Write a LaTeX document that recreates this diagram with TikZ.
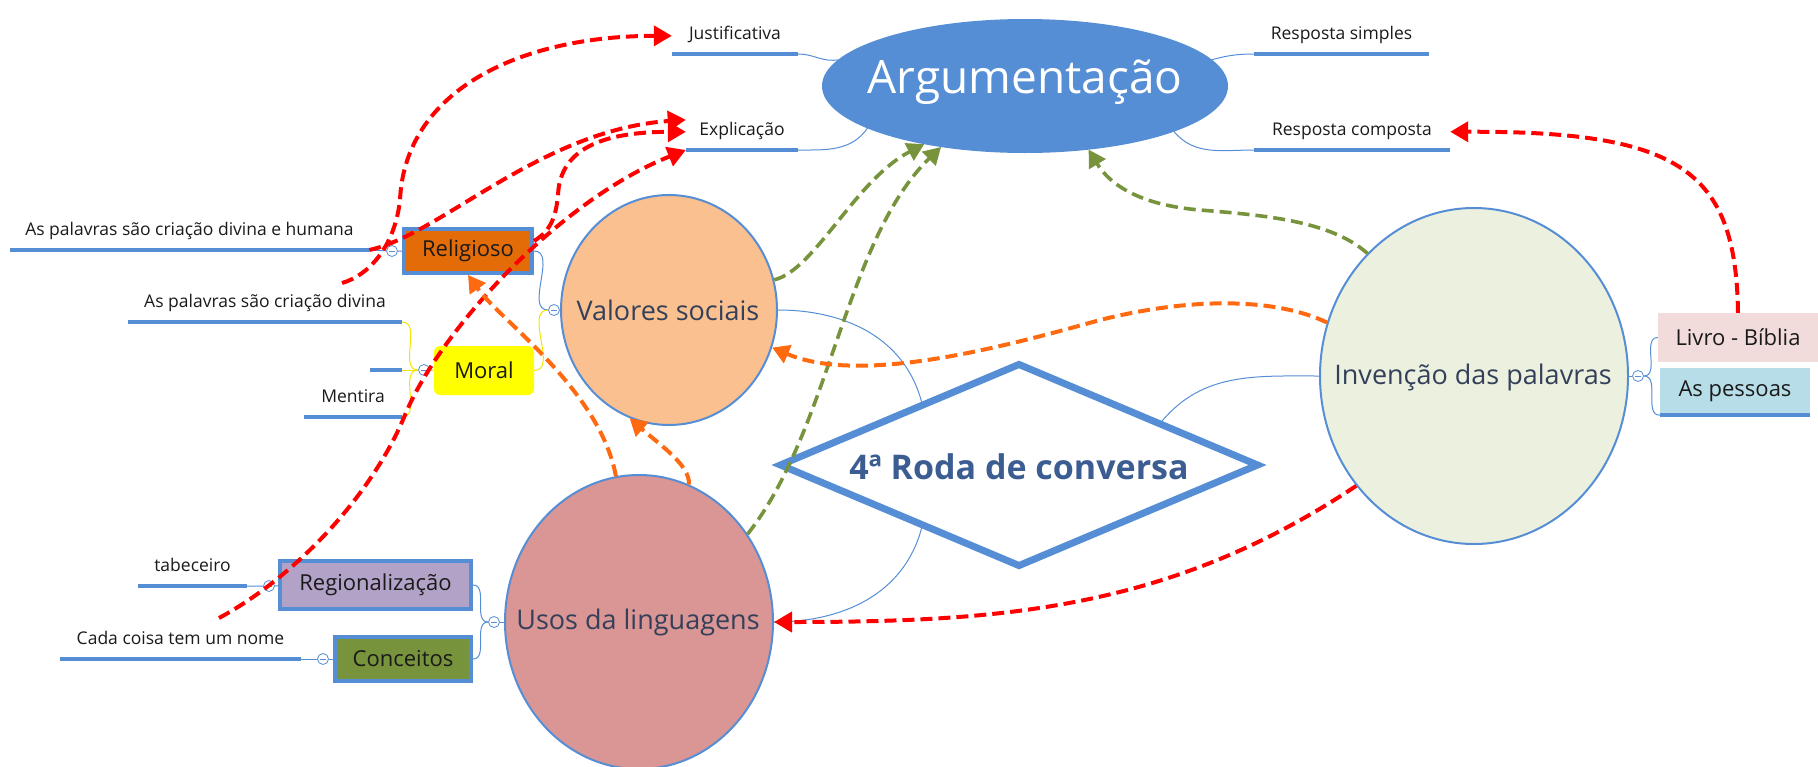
\documentclass[tikz,border=0pt]{standalone}
\usepackage{fontspec}
\setmainfont{Open Sans}
\usetikzlibrary{shapes.geometric,arrows.meta}
\definecolor{mapblue}{HTML}{558ED5}
\definecolor{argfill}{HTML}{558ED5}
\definecolor{valfill}{HTML}{FAC08F}
\definecolor{usosfill}{HTML}{D99694}
\definecolor{invfill}{HTML}{EBF1DE}
\definecolor{religfill}{HTML}{E36C09}
\definecolor{moralfill}{HTML}{FFFF00}
\definecolor{regfill}{HTML}{B3A2C7}
\definecolor{concfill}{HTML}{77933C}
\definecolor{livrofill}{HTML}{F2DCDB}
\definecolor{pessfill}{HTML}{B7DEE8}
\definecolor{arrred}{HTML}{FF0000}
\definecolor{arrgreen}{HTML}{77933C}
\definecolor{arrorange}{HTML}{FF6A10}
\definecolor{elltext}{HTML}{34405A}
\definecolor{rodatext}{HTML}{3B5D92}
\definecolor{lbltext}{HTML}{1A1A1A}
\definecolor{yellowline}{HTML}{F2E600}
\begin{document}
\begin{tikzpicture}[x=1pt,y=-1pt,
  ell/.style={ellipse, draw=mapblue, line width=2pt, inner sep=0pt},
  elltxt/.style={inner sep=0pt, text=elltext, font=\fontsize{27}{31}\selectfont},
  ul/.style={draw=mapblue, line width=4pt},
  lbl/.style={minimum width=#1, anchor=south, inner xsep=0pt, inner ysep=0pt, text height=14pt, text depth=14pt, text=lbltext, font=\fontsize{17.5}{20}\selectfont,
    append after command={(\tikzlastnode.south west) edge[ul] (\tikzlastnode.south east)}},
  boxb/.style={draw=mapblue, line width=4pt, inner sep=0pt, text=lbltext, font=\fontsize{22}{26}\selectfont},
  boxn/.style={inner sep=0pt, text=lbltext, font=\fontsize{22}{26}\selectfont},
  mcirc/.style={circle, draw=mapblue, fill=white, line width=0.8pt, minimum size=11pt, inner sep=0pt,
    path picture={\draw[mapblue, line width=0.8pt] ([xshift=-3pt]path picture bounding box.center) -- ([xshift=3pt]path picture bounding box.center);}},
  thinb/.style={draw=mapblue, line width=1pt},
  thiny/.style={draw=yellowline, line width=1pt},
  rarr/.style={draw=arrred, line width=4pt, dash pattern=on 12pt off 6pt, -{Triangle[length=18pt,width=20pt]}},
  garr/.style={draw=arrgreen, line width=3.6pt, dash pattern=on 12pt off 6pt, -{Triangle[length=17pt,width=19pt]}},
  oarr/.style={draw=arrorange, line width=4pt, dash pattern=on 12pt off 6pt, -{Triangle[length=17pt,width=19pt]}}
]
\useasboundingbox (0,0) rectangle (1818,766);

% main topics
\node[ell, fill=argfill, minimum width=404pt, minimum height=132pt] (arg) at (1025,86) {};
\node[elltxt, text=white, font=\fontsize{46}{50}\selectfont] (argt) at (1025,82) {Argumentação};
\node[ell, fill=valfill, minimum width=216pt, minimum height=230pt] (valores) at (669,310) {};
\node[elltxt] (valt) at (668,310) {Valores sociais};
\node[ell, fill=usosfill, minimum width=268pt, minimum height=294pt] (usos) at (639,622) {};
\node[elltxt] (usost) at (638,622) {Usos da linguagens};
\node[ell, fill=invfill, minimum width=308pt, minimum height=336pt] (invencao) at (1474,376) {};
\node[elltxt] (invt) at (1473,377) {Invenção das palavras};
\node[diamond, draw=mapblue, line width=7pt, fill=white, minimum width=480pt, minimum height=204pt, inner sep=0pt] (roda) at (1019,465) {};
\node[text=rodatext, font=\fontsize{34}{39}\selectfont\bfseries] (rodat) at (1019,467) {4ª Roda de conversa};

% boxes
\node[boxb, fill=religfill, minimum width=128pt, minimum height=44pt] (relig) at (468,251) {Religioso};
\node[boxn, fill=moralfill, minimum width=100pt, minimum height=49pt, rounded corners=6pt] (moral) at (484,370.5) {Moral};
\node[boxb, fill=regfill, minimum width=191pt, minimum height=48pt] (region) at (375.5,585) {Regionalização};
\node[boxb, fill=concfill, minimum width=136pt, minimum height=44pt] (conceitos) at (403,659) {Conceitos};
\node[boxn, fill=livrofill, minimum width=160pt, minimum height=49pt] (livro) at (1738,337.5) {Livro - Bíblia};
\node[boxn, fill=pessfill, minimum width=150pt, minimum height=47pt,
  append after command={(\tikzlastnode.south west) edge[ul] (\tikzlastnode.south east)}] (pessoas) at (1735,391.5) {As pessoas};

% labels with underlines
\node[lbl=126pt] (just) at (735,54) {Justificativa};
\node[lbl=112pt] (expl) at (742,150) {Explicação};
\node[lbl=175pt] (rsimp) at (1341.5,54) {Resposta simples};
\node[lbl=196pt] (rcomp) at (1352,150) {Resposta composta};
\node[lbl=359pt] (ph) at (189.5,250) {As palavras são criação divina e humana};
\node[lbl=274pt] (pd) at (265,322) {As palavras são criação divina};
\node[lbl=32pt] (pe) at (386,370) {};
\node[lbl=98pt] (ment) at (353,417) {Mentira};
\node[lbl=109pt] (tab) at (192.5,586) {tabeceiro};
\node[lbl=241pt] (cada) at (180.5,659) {Cada coisa tem um nome};

% collapse circles
\node[mcirc] (crel) at (392,251) {};
\node[mcirc] (cmor) at (424,370) {};
\node[mcirc] (cval) at (554,310) {};
\node[mcirc] (creg) at (269,586) {};
\node[mcirc] (ccon) at (323,659) {};
\node[mcirc] (cuso) at (494,622) {};
\node[mcirc] (cinv) at (1638,376) {};

% thin connectors
\draw[thinb] (ph.south east) -- (crel) -- (relig);
\draw[thiny] (pd.south east) to[out=0,in=180] (cmor.west);
\draw[thiny] (pe.south east) -- (cmor);
\draw[thiny] (ment.south east) to[out=0,in=180] (cmor.west);
\draw[thiny] (cmor) -- (moral);
\draw[thinb] (relig.east) to[out=0,in=180] (cval.west);
\draw[thiny] (moral.east) to[out=0,in=180] (cval.west);
\draw[thinb] (cval) -- (valores);
\draw[thinb] (tab.south east) -- (creg) -- (region);
\draw[thinb] (cada.south east) -- (ccon) -- (conceitos);
\draw[thinb] (region.east) to[out=0,in=180] (cuso.west);
\draw[thinb] (conceitos.east) to[out=0,in=180] (cuso.west);
\draw[thinb] (cuso) -- (usos);
\draw[thinb] (invencao) -- (cinv);
\draw[thinb] (cinv.east) to[out=0,in=180] (livro.west);
\draw[thinb] (cinv.east) to[out=0,in=180] (pessoas.south west);
\draw[thinb] (just.south east) to[out=0,in=190] (arg.172);
\draw[thinb] (expl.south east) to[out=0,in=235] (arg.195);
\draw[thinb] (arg.8) to[out=15,in=180] (rsimp.south west);
\draw[thinb] (arg.343) to[out=-50,in=180] (rcomp.south west);
\draw[thinb] (roda.147) to[out=105,in=0] (valores.east);
\draw[thinb] (roda.213) to[out=-105,in=0] (usos.east);
\draw[thinb] (roda.17) to[out=50,in=180] (invencao.west);

% free ends
\coordinate (r1s) at (342,283);
\coordinate (r4s) at (219,618);

% red relations
\draw[rarr] (r1s) .. controls (370,275) and (395,245) .. (400,200) .. controls (405,90) and (520,36) .. ([yshift=4pt]just.west);
\draw[rarr] (ph.south east) .. controls (440,235) and (540,130) .. ([yshift=16pt]expl.west);
\draw[rarr] ([yshift=10pt]relig.east) .. controls (552,230) and (556,215) .. (558,195) .. controls (560,150) and (600,132) .. ([yshift=4pt]expl.west);
\draw[rarr] (r4s) .. controls (290,580) and (370,500) .. (405,415) .. controls (440,330) and (560,200) .. (expl.south west);
\draw[rarr] (livro.north) .. controls (1736,170) and (1680,131) .. ([yshift=4pt]rcomp.east);
\draw[rarr] (invencao.223) .. controls (1170,610) and (1000,622) .. (usos.east);

% green relations
\draw[garr] (valores.16) .. controls (815,270) and (855,180) .. (arg.210);
\draw[garr] (usos.39) .. controls (830,430) and (845,240) .. (arg.216);
\draw[garr] (invencao.131) .. controls (1330,220) and (1260,215) .. (1200,210) .. controls (1140,205) and (1110,185) .. (arg.315);

% orange relations
\draw[oarr] (invencao.160) .. controls (1280,300) and (1200,295) .. (1100,320) .. controls (1000,348) and (860,385) .. (valores.340);
\draw[oarr] (usos.99) .. controls (600,390) and (500,320) .. (relig.south);
\draw[oarr] (usos.70) .. controls (690,465) and (660,445) .. (valores.250);
\end{tikzpicture}
\end{document}
